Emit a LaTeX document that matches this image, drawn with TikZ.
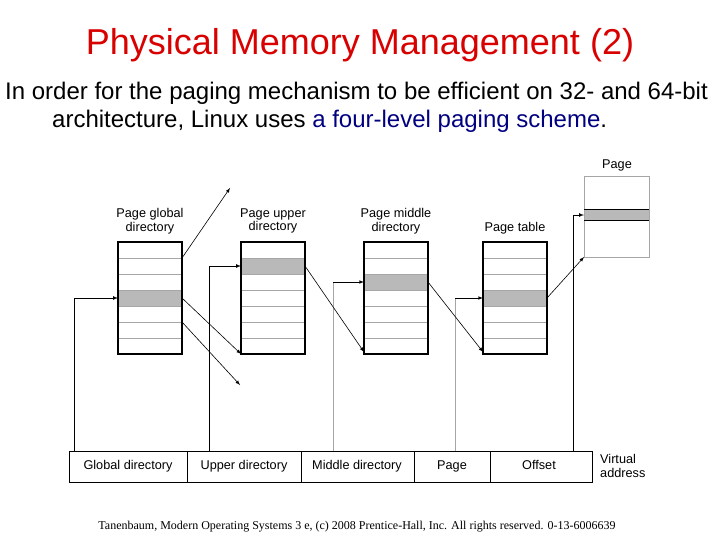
\documentclass[tikz,border=0pt]{standalone}
\usepackage{fontspec}
\setmainfont{Liberation Sans}
\newfontfamily\serifx{Liberation Serif}
\begin{document}
\begin{tikzpicture}[x=1pt,y=-1pt,
  lbl/.style={font=\fontsize{12.7}{13.5}\selectfont,align=center,inner sep=0pt},
  fld/.style={lbl,text height=9pt,text depth=3pt},
  ptr/.style={-latex,line width=0.6pt},
  feed/.style={line width=0.7pt}]
\useasboundingbox (0,0) rectangle (720,540);
\node[text=red!85!black,font=\fontsize{36}{40}\selectfont] (title) at (360,45) {Physical Memory Management (2)};
\node[anchor=west,font=\fontsize{24}{28}\selectfont,inner sep=0pt] (l1) at (5,93) {In order for the paging mechanism to be efficient on 32- and 64-bit};
\node[anchor=west,font=\fontsize{24}{28}\selectfont,inner sep=0pt] (l2) at (52,121) {architecture, Linux uses \textcolor{blue!50!black}{a four-level paging scheme}.};
% tables
\foreach \nm/\x/\s/\txt/\ty in {pgd/118/4/Page global\\directory/221, pud/241/2/Page upper\\directory/221, pmd/364/3/Page middle\\directory/221, pt/483/4/Page table/228}{
  \fill[gray!55] (\x,{242+16*(\s-1)}) rectangle ++(64,16);
  \foreach \r in {1,...,6}{\draw[gray!70,line width=0.8pt] (\x,{242+16*\r}) -- ++(64,0);}
  \draw[line width=1.2pt] (\x,242) rectangle ++(64,112);
  \node[lbl] (\nm lab) at (\x+32,\ty) {\txt};
}
\node[lbl] (pagelab) at (617,165) {Page};
\fill[gray!55] (584,209) rectangle (649,220);
\draw[gray!70] (584,176) rectangle (649,257);
\draw[line width=0.8pt] (584,209) -- (649,209) (584,220) -- (649,220);
% virtual address
\draw[line width=0.8pt] (69,451) rectangle (592,482);
\foreach \d in {187,301,414,490}{\draw[line width=0.8pt] (\d,451) -- (\d,482);}
\node[fld] (vg) at (128,466.5) {Global directory};
\node[fld] (vu) at (244,466.5) {Upper directory};
\node[fld] (vm) at (357,466.5) {Middle directory};
\node[fld] (vp) at (452,466.5) {Page};
\node[fld] (vo) at (539,466.5) {Offset};
\node[lbl,anchor=west,align=left] (va) at (600,466) {Virtual\\address};
% feed lines
\draw[feed,-latex] (74,451) -- (74,298) -- (118,298);
\draw[feed,-latex] (209,451) -- (209,266) -- (241,266);
\draw[feed,gray!70] (333,451) -- (333,282);
\draw[ptr] (333,282) -- (364,282);
\draw[feed,gray!70] (455,451) -- (455,298);
\draw[ptr] (455,298) -- (483,298);
\draw[feed,-latex] (573,451) -- (573,215) -- (584,215);
% pointers
\draw[ptr] (182,258) -- (230,188);
\draw[ptr] (182,298) -- (241,354);
\draw[ptr] (182,322) -- (240,385);
\draw[ptr] (305,266) -- (364,352);
\draw[ptr] (428,282) -- (483,352);
\draw[ptr] (547,298) -- (584,257);
\node[font=\serifx\fontsize{12}{13}\selectfont] (foot) at (357,527) {Tanenbaum, Modern Operating Systems 3 e, (c) 2008 Prentice-Hall, Inc. All rights reserved. 0-13-6006639};
\end{tikzpicture}
\end{document}
